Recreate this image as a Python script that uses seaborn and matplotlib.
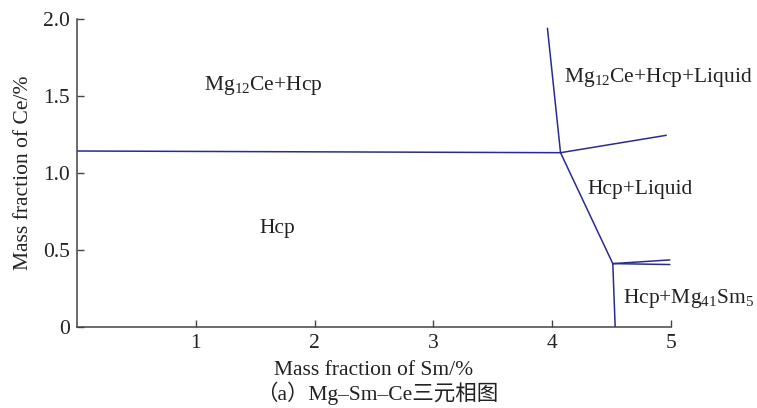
import matplotlib
matplotlib.use("Agg")
import matplotlib.pyplot as plt
import seaborn as sns
import pandas as pd

# Phase boundary lines of the Mg-Sm-Ce isothermal section (Sm %, Ce %)
mg12ce_hcp_sm = [0.0, 4.07]
mg12ce_hcp_ce = [1.142, 1.131]
mg12ce_liquid_sm = [4.07, 3.96]
mg12ce_liquid_ce = [1.131, 1.94]
upper_liquid_sm = [4.07, 4.96]
upper_liquid_ce = [1.131, 1.244]
hcp_liquid_sm = [4.07, 4.51]
hcp_liquid_ce = [1.131, 0.41]
mg41sm5_upper_sm = [4.51, 4.99]
mg41sm5_upper_ce = [0.41, 0.434]
mg41sm5_lower_sm = [4.51, 4.99]
mg41sm5_lower_ce = [0.41, 0.404]
hcp_mg41sm5_sm = [4.51, 4.53]
hcp_mg41sm5_ce = [0.41, 0.0]

boundaries = [
    (mg12ce_hcp_sm, mg12ce_hcp_ce),
    (mg12ce_liquid_sm, mg12ce_liquid_ce),
    (upper_liquid_sm, upper_liquid_ce),
    (hcp_liquid_sm, hcp_liquid_ce),
    (mg41sm5_upper_sm, mg41sm5_upper_ce),
    (mg41sm5_lower_sm, mg41sm5_lower_ce),
    (hcp_mg41sm5_sm, hcp_mg41sm5_ce),
]

# Phase region labels and their anchor positions
region_labels = ["Mg$_{12}$Ce+Hcp", "Hcp", "Mg$_{12}$Ce+Hcp+Liquid",
                 "Hcp+Liquid", "Hcp+Mg$_{41}$Sm$_{5}$"]
region_sm = [1.57, 1.69, 4.89, 4.74, 5.15]
region_ce = [1.57, 0.64, 1.62, 0.89, 0.186]

x_ticks = [1, 2, 3, 4, 5]
x_tick_labels = ["1", "2", "3", "4", "5"]
y_ticks = [0, 0.5, 1.0, 1.5, 2.0]
y_tick_labels = ["0", "0.5", "1.0", "1.5", "2.0"]

sns.set_theme(style="white")
plt.rcParams["font.family"] = ["Liberation Serif", "Noto Sans CJK SC"]
plt.rcParams["mathtext.default"] = "regular"

line_color = "#2a2a96"
text_color = "#222222"
fs = 15.5

fig = plt.figure(figsize=(7.57, 4.08), dpi=100)
ax = fig.add_axes([0.1017, 0.1993, 0.7847, 0.7541])

for i, (xs, ys) in enumerate(boundaries):
    df = pd.DataFrame({"Sm": xs, "Ce": ys})
    sns.lineplot(data=df, x="Sm", y="Ce", sort=False, color=line_color,
                 linewidth=1.1, ax=ax, estimator=None)

for label, sx, cy in zip(region_labels, region_sm, region_ce):
    ax.text(sx, cy, label, ha="center", va="center", fontsize=fs,
            color=text_color, clip_on=False)

ax.set_xlim(0, 5)
ax.set_ylim(0, 2.0)
ax.set_xticks(x_ticks)
ax.set_xticklabels(x_tick_labels)
ax.set_yticks(y_ticks)
ax.set_yticklabels(y_tick_labels)
ax.tick_params(direction="in", length=5, width=1, colors="#444444",
               labelcolor=text_color, labelsize=fs, bottom=True, left=True,
               pad=5)
sns.despine(ax=ax)
for side in ("left", "bottom"):
    ax.spines[side].set_color("#444444")
    ax.spines[side].set_linewidth(1.1)

ax.set_xlabel("Mass fraction of Sm/%", fontsize=fs, color=text_color, labelpad=6)
ax.set_ylabel("Mass fraction of Ce/%", fontsize=fs, color=text_color, labelpad=7)

fig.text(0.498, 0.008, "（a）Mg–Sm–Ce三元相图", ha="center", va="bottom",
         fontsize=fs, color=text_color)

fig.savefig("out.png", dpi=100)
